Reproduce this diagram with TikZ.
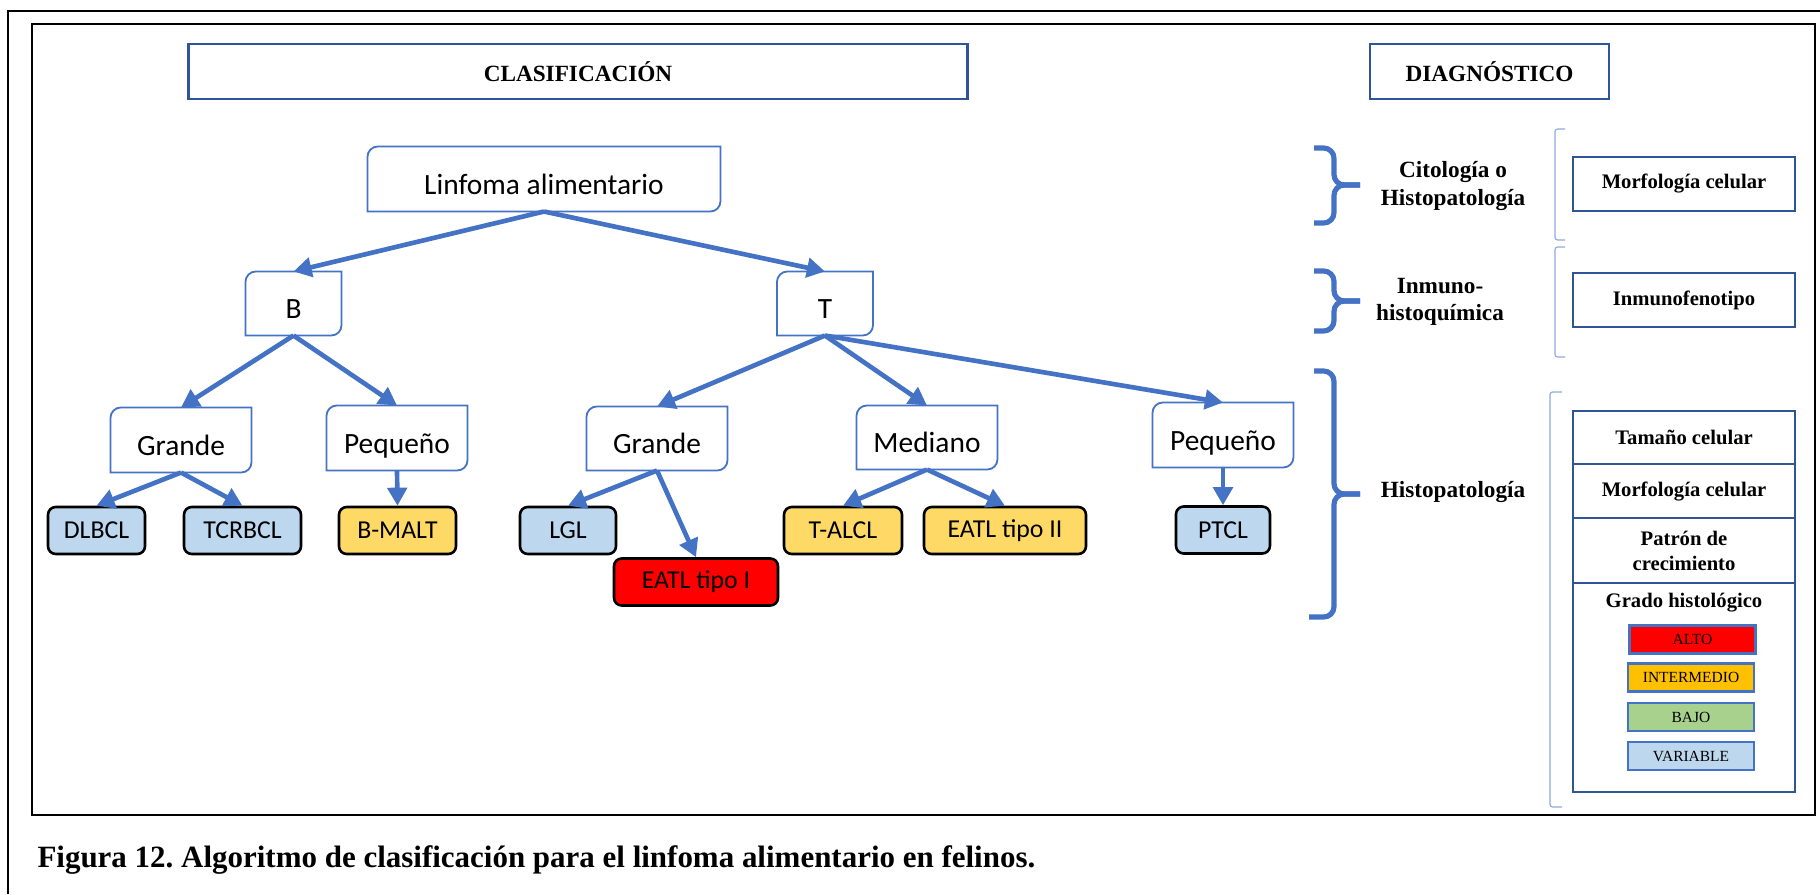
\documentclass[tikz,border=0pt]{standalone}
\usepackage{fontspec}
\setmainfont{Liberation Serif}
\newfontfamily\calibri{Carlito}
\usetikzlibrary{arrows.meta}
\frenchspacing

\definecolor{treeblue}{HTML}{4472C4}
\definecolor{darkblue}{HTML}{2F5597}
\definecolor{paleblue}{HTML}{8FAADC}
\definecolor{leafblue}{HTML}{BDD7EE}
\definecolor{leafyellow}{HTML}{FFD966}
\definecolor{leafred}{HTML}{FF0000}
\definecolor{midorange}{HTML}{FFC000}
\definecolor{lowgreen}{HTML}{A9D18E}

\def\pxl{0.3875pt}

\tikzset{
  tnode/.style 2 args={inner sep=0pt, minimum width=#1*\pxl, minimum height=#2*\pxl,
    text height=12pt, text depth=0pt, font=\calibri\fontsize{11.4}{13}\selectfont},
  leafbox/.style 2 args={draw=black, line width=1pt, rounded corners=3pt, inner sep=0pt,
    minimum width=#1*\pxl, minimum height=47*\pxl, fill=#2,
    font=\calibri\fontsize{10}{12}\selectfont},
  hdr/.style 2 args={draw=darkblue, line width=0.9pt, inner sep=0pt,
    minimum width=#1*\pxl, minimum height=#2*\pxl, font=\bfseries\fontsize{9}{11}\selectfont},
  cell/.style 2 args={draw=darkblue, line width=0.8pt, inner sep=0pt, align=center,
    minimum width=#1*\pxl, minimum height=#2*\pxl, font=\bfseries\fontsize{8}{9.7}\selectfont},
  lab/.style={align=center, font=\bfseries\fontsize{9}{10.5}\selectfont},
  grade/.style={draw=treeblue, line width=1.1pt, fill=#1, inner sep=0pt,
    minimum width=126*\pxl, minimum height=28*\pxl, font=\fontsize{6}{7}\selectfont},
  link/.style={treeblue, line width=1.8pt},
  brc/.style={treeblue, line width=2pt, rounded corners=4pt},
  thinbr/.style={paleblue, line width=0.45pt, rounded corners=1pt},
  frame/.style={black, line width=1pt}
}

\begin{document}
\begin{tikzpicture}[x=0.3875pt, y=-0.3875pt, > = {Triangle[length=7pt,width=7.5pt]}]
			\useasboundingbox (0,0) rectangle (1820,894);

			% Frames
			\draw[frame] (8,894) -- (8,11) -- (1820,11);
			\draw[frame] (32,24) rectangle (1815,815);

			% Headers
			\node[hdr={779}{55}] (clas) at (578,71.5) {CLASIFICACIÓN};
			\node[hdr={239}{55}] (diag) at (1489.5,71.5) {DIAGNÓSTICO};

			% Tree
			\node[tnode={352}{64}] (lin) at (544,179) {Linfoma alimentario};
			\node[tnode={95}{63}] (B) at (293.5,303.5) {B};
			\node[tnode={95}{63}] (T) at (825,303.5) {T};
			\node[tnode={140}{64}] (gB) at (181,440) {Grande};
			\node[tnode={140}{64}] (pB) at (397,438) {Pequeño};
			\node[tnode={140}{63}] (gT) at (657,438.5) {Grande};
			\node[tnode={140}{63}] (mT) at (927,437.5) {Mediano};
			\node[tnode={140}{64}] (pT) at (1223,435) {Pequeño};
			\foreach \n in {lin,B,T,gB,pB,gT,mT,pT}
				\draw[treeblue, line width=0.7pt] (\n.south west) -- ([yshift=-4pt]\n.north west)
					arc[start angle=180, end angle=90, radius=4pt] -- (\n.north east)
					-- ([yshift=4pt]\n.south east) arc[start angle=0, end angle=-90, radius=4pt] -- cycle;

			% Leaves
			\node[leafbox={97}{leafblue}] (dl) at (96.5,530.5) {DLBCL};
			\node[leafbox={117}{leafblue}] (tc) at (242.5,530.5) {TCRBCL};
			\node[leafbox={117}{leafyellow}] (bm) at (397.5,530.5) {B-MALT};
			\node[leafbox={96}{leafblue}] (lgl) at (568,530.5) {LGL};
			\node[leafbox={164}{leafred}] (e1) at (696,582) {EATL tipo I};
			\node[leafbox={118}{leafyellow}] (ta) at (843,530.5) {T-ALCL};
			\node[leafbox={162}{leafyellow}] (e2) at (1005,530.5) {EATL tipo II};
			\node[leafbox={94}{leafblue}] (pt) at (1223,530) {PTCL};

			% Arrows
			\draw[->, link] (lin.south) -- (B.north);
			\draw[->, link] (lin.south) -- (T.north);
			\draw[->, link] (B.south) -- (gB.north);
			\draw[->, link] (B.south) -- (pB.north);
			\draw[->, link] (T.south) -- (gT.north);
			\draw[->, link] (T.south) -- (mT.north);
			\draw[->, link] (T.south) -- (pT.north);
			\draw[->, link] (gB.south) -- (dl.north);
			\draw[->, link] (gB.south) -- (tc.north);
			\draw[->, link] (pB.south) -- (bm.north);
			\draw[->, link] (gT.south) -- (lgl.north);
			\draw[->, link] (gT.south) -- (e1.north);
			\draw[->, link] (mT.south) -- (ta.north);
			\draw[->, link] (mT.south) -- (e2.north);
			\draw[->, link] (pT.south) -- (pt.north);

			% Braces
			\draw[brc] (1314,148) -- (1334,148) -- (1334,185) -- (1360,185);
			\draw[brc] (1314,223) -- (1334,223) -- (1334,185) -- (1360,185);
			\draw[brc] (1314,271) -- (1334,271) -- (1334,301) -- (1360,301);
			\draw[brc] (1314,331) -- (1334,331) -- (1334,301) -- (1360,301);
			\draw[brc] (1314,371) -- (1334,371) -- (1334,494) -- (1360,494);
			\draw[brc] (1309,617) -- (1334,617) -- (1334,494) -- (1360,494);

			% Methods
			\node[lab] (cito) at (1453,186) {Citología o\\Histopatología};
			\node[lab] (inmu) at (1440,302) {Inmuno-\\histoquímica};
			\node[lab] (histo) at (1453,492) {Histopatología};

			% Brackets
			\draw[thinbr] (1565,129) -- (1555,129) -- (1555,240) -- (1565,240);
			\draw[thinbr] (1565,247) -- (1555,247) -- (1555,357) -- (1565,357);
			\draw[thinbr] (1562,392) -- (1550,392) -- (1550,807) -- (1562,807);

			% Diagnosis boxes
			\node[cell={222}{54}] (morf) at (1684,184) {Morfología celular};
			\node[cell={222}{54}] (inmf) at (1684,300) {Inmunofenotipo};
			\node[cell={222}{53}] (tam) at (1684,437.5) {Tamaño celular};
			\node[cell={222}{54}] (mor2) at (1684,491) {Morfología celular};
			\node[cell={222}{65}] (pat) at (1684,550.5) {Patrón de\\crecimiento};
			\node[cell={222}{209}] (gra) at (1684,687.5) {};
			\node[font=\bfseries\fontsize{8}{9.7}\selectfont] (grat) at (1684,603) {Grado histológico};

			% Grades
			\node[grade=leafred] (alto) at (1692.5,639.5) {ALTO};
			\node[grade=midorange] (inter) at (1691,677.5) {INTERMEDIO};
			\node[grade=lowgreen] (bajo) at (1691,717) {BAJO};
			\node[grade=leafblue] (vari) at (1691,756) {VARIABLE};

			% Caption
			\node[anchor=west, inner sep=0pt, font=\bfseries\fontsize{12}{14}\selectfont] (cap) at (37,860)
				{Figura 12. Algoritmo de clasificación para el linfoma alimentario en felinos.};
		\end{tikzpicture}
\end{document}
